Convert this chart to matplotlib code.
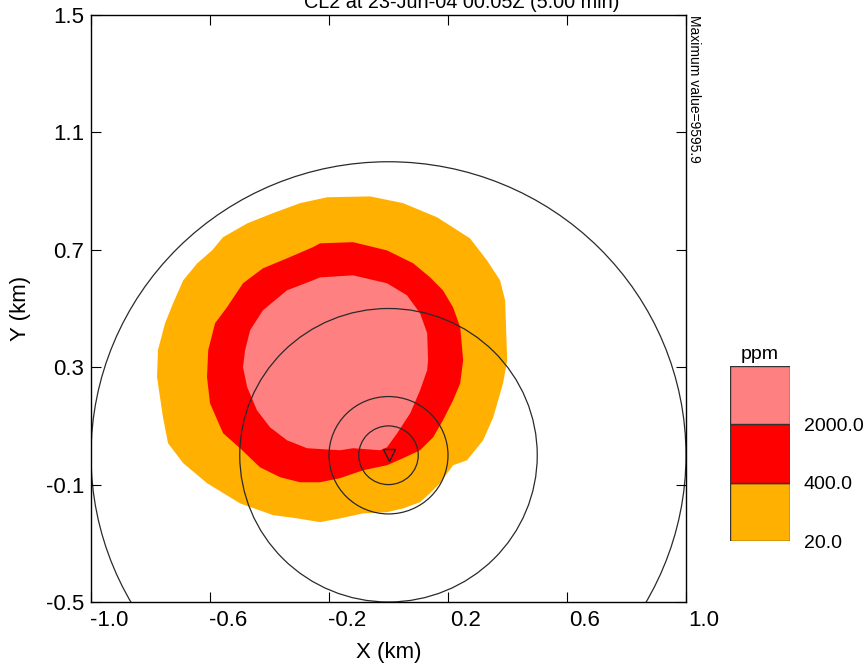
import matplotlib
matplotlib.use("Agg")
import matplotlib.pyplot as plt
from matplotlib.patches import Circle
from matplotlib.transforms import ScaledTranslation

plt.rcParams['font.family'] = ['Liberation Sans', 'DejaVu Sans']

title = "CL2 at 23-Jun-04 00:05Z (5.00 min)"
max_text = "Maximum value=9595.9"

# contour levels (ppm) and their colours (low -> high)
levels = [20.0, 400.0, 2000.0]
level_labels = ["20.0", "400.0", "2000.0"]
level_colors = ["#FFB000", "#FF0000", "#FF8080"]

# contour outlines (km)
orange_x = [-0.206, -0.062, 0.049, 0.163, 0.274, 0.331, 0.375, 0.392, 0.399, 0.385,
            0.352, 0.318, 0.264, 0.217, 0.173, 0.140, 0.106, 0.049, -0.005, -0.085,
            -0.163, -0.230, -0.307, -0.388, -0.499, -0.610, -0.690, -0.741, -0.758, -0.778,
            -0.775, -0.751, -0.724, -0.690, -0.643, -0.593, -0.556, -0.475, -0.388, -0.297]
orange_y = [0.879, 0.882, 0.859, 0.811, 0.739, 0.664, 0.596, 0.528, 0.324, 0.245,
            0.129, 0.051, -0.017, -0.034, -0.095, -0.129, -0.160, -0.181, -0.194, -0.198,
            -0.215, -0.228, -0.215, -0.204, -0.164, -0.095, -0.027, 0.041, 0.129, 0.266,
            0.358, 0.450, 0.518, 0.596, 0.654, 0.698, 0.743, 0.790, 0.825, 0.859]

red_x = [-0.230, -0.119, -0.005, 0.083, 0.140, 0.183, 0.217, 0.241, 0.251, 0.241,
         0.217, 0.183, 0.150, 0.106, 0.049, -0.005, -0.085, -0.163, -0.230, -0.297,
         -0.364, -0.432, -0.499, -0.556, -0.600, -0.610, -0.606, -0.583, -0.543, -0.489,
         -0.422, -0.341, -0.254]
red_y = [0.722, 0.726, 0.698, 0.654, 0.606, 0.562, 0.504, 0.436, 0.324, 0.245,
         0.187, 0.119, 0.061, 0.017, -0.010, -0.034, -0.051, -0.078, -0.092, -0.092,
         -0.075, -0.041, 0.024, 0.075, 0.177, 0.266, 0.358, 0.450, 0.504, 0.586,
         0.637, 0.671, 0.709]

pink_x = [-0.230, -0.119, -0.005, 0.062, 0.106, 0.130, 0.133, 0.130, 0.106, 0.073,
          0.029, -0.005, -0.028, -0.119, -0.163, -0.274, -0.341, -0.398, -0.442, -0.475,
          -0.489, -0.482, -0.465, -0.422, -0.341, -0.254]
pink_y = [0.606, 0.613, 0.586, 0.545, 0.484, 0.416, 0.324, 0.290, 0.221, 0.143,
          0.075, 0.027, 0.017, 0.024, 0.017, 0.024, 0.051, 0.095, 0.153, 0.232,
          0.300, 0.358, 0.426, 0.494, 0.562, 0.596]

# range rings around the source (km)
ring_radii = [0.1, 0.2, 0.5, 1.0]
source_x, source_y = 0.0, 0.0

x_ticks = [-1.0, -0.6, -0.2, 0.2, 0.6, 1.0]
x_tick_labels = ["-1.0", "-0.6", "-0.2", "0.2", "0.6", "1.0"]
y_ticks = [-0.5, -0.1, 0.3, 0.7, 1.1, 1.5]
y_tick_labels = ["-0.5", "-0.1", "0.3", "0.7", "1.1", "1.5"]

fig = plt.figure(figsize=(8.64, 6.69), dpi=100)
ax = fig.add_axes([91/864, 1 - 602/669, 595/864, 587/669])

ax.fill(orange_x, orange_y, color=level_colors[0], lw=0)
ax.fill(red_x, red_y, color=level_colors[1], lw=0)
ax.fill(pink_x, pink_y, color=level_colors[2], lw=0)

for r in ring_radii:
    ax.add_patch(Circle((source_x, source_y), r, fill=False, ec="#2a2a2a", lw=0.9))

ax.plot([source_x], [source_y], marker="v", ms=9, mfc="none", mec="#222222", mew=1.0)

ax.set_xlim(-1.0, 1.0)
ax.set_ylim(-0.5, 1.5)
ax.set_xticks(x_ticks)
ax.set_xticklabels(x_tick_labels)
ax.set_yticks(y_ticks)
ax.set_yticklabels(y_tick_labels)
ax.tick_params(direction="in", length=7, width=0.8, top=True, right=True,
               labelsize=16, colors="black")
ax.tick_params(axis="x", pad=6)
ax.tick_params(axis="y", pad=5)
for s in ax.spines.values():
    s.set_linewidth(1.0)

offset = ScaledTranslation(0.18, 0, fig.dpi_scale_trans)
for lab in ax.get_xticklabels():
    lab.set_transform(lab.get_transform() + offset)

ax.set_xlabel("X (km)", fontsize=16)
ax.set_ylabel("Y (km)", fontsize=16)
ax.xaxis.set_label_coords(0.5, -0.068)
ax.yaxis.set_label_coords(-0.100, 0.5)

fig.text(462/864, 1 - 8/669, title, fontsize=14.3, ha="center", va="baseline")
fig.text(694/864, 1 - 15/669, max_text, fontsize=10, rotation=-90,
         ha="center", va="top")

# legend colour bar
lax = fig.add_axes([730/864, 1 - 541/669, 60/864, 175/669])
for i, c in enumerate(level_colors):
    lax.bar(0, 1, bottom=i, width=1, color=c, edgecolor="#333333", lw=1.0)
lax.set_xlim(-0.5, 0.5)
lax.set_ylim(0, len(level_colors))
lax.set_xticks([])
lax.set_yticks(range(len(levels)))
lax.set_yticklabels(level_labels)
lax.yaxis.tick_right()
lax.tick_params(axis="y", length=0, pad=10, labelsize=14)
for s in lax.spines.values():
    s.set_visible(False)
lax.set_title("ppm", fontsize=14, pad=5)

fig.savefig("out.png", dpi=100)
